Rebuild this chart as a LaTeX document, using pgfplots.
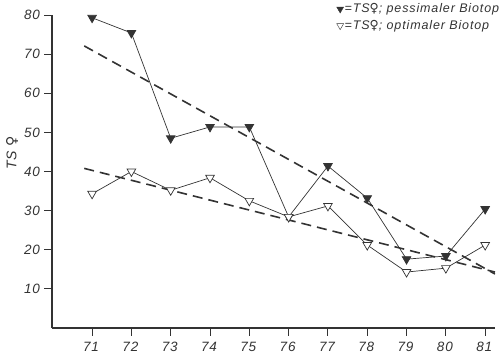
\documentclass[border=0pt]{standalone}
\usepackage{fontspec}
\setmainfont{Liberation Sans}
\newfontfamily\dejavu{DejaVu Sans}
\newfontfamily\ticksfont[LetterSpace=6]{Liberation Sans}
\newfontfamily\legfont[LetterSpace=7]{Liberation Sans}
\usepackage{pgfplots}
\pgfplotsset{compat=1.18}
\definecolor{ink}{HTML}{333333}

\begin{document}
\begin{tikzpicture}
\useasboundingbox (-52pt,-29pt) rectangle (448pt,328pt);
\begin{axis}[
  scale only axis, width=443pt, height=313pt,
  xmin=69.98, xmax=81.25, ymin=0, ymax=80,
  axis x line*=bottom, axis y line*=left,
  axis line style={-, ink, line width=1.1pt},
  xtick={71,72,...,81}, ytick={10,20,...,80},
  tick align=outside, major tick length=7.5pt,
  tick style={ink, line width=1pt},
  /pgf/number format/assume math mode=true,
  ticklabel style={font=\ticksfont\fontsize{13.5}{16}\selectfont\itshape, text=ink},
  x tick label style={yshift=-3pt, xshift=-1pt},
  y tick label style={xshift=-1pt},
  ylabel={TS {\dejavu ♀}},
  every axis y label/.style={at={(axis description cs:-0.09,0.56)}, rotate=90, anchor=center, font=\ticksfont\fontsize{14}{16}\selectfont\itshape, text=ink},
  legend style={draw=none, fill=none, at={(1.012,1.04)}, anchor=north east,
    font=\legfont\fontsize{12.5}{14}\selectfont\itshape, text=ink, row sep=4pt,
    inner sep=0pt, nodes={inner xsep=1pt, inner ysep=1pt}},
  legend cell align=left,
  legend image code/.code={\draw[#1] plot coordinates {(0pt,0pt)};},
]
% trend lines
\addplot[forget plot, ink, line width=1.6pt, dash pattern=on 10pt off 6pt] coordinates {(70.8,72.1) (81.25,13.8)};
\addplot[forget plot, ink, line width=1.6pt, dash pattern=on 10pt off 6pt] coordinates {(70.8,40.8) (81.25,14.3)};
% pessimaler Biotop
\addplot[forget plot, ink, line width=0.7pt, mark=triangle*, mark size=5pt,
  mark options={rotate=180, fill=ink, solid}] coordinates {
  (71,79.3) (72,75.4) (73,48.5) (74,51.4) (75,51.4) (76,28.4) (77,41.4) (78,33.2) (79,17.6) (80,18.4) (81,30.4)};
% optimaler Biotop
\addplot[forget plot, ink, line width=0.7pt, mark=triangle*, mark size=5pt,
  mark options={rotate=180, fill=white, draw=ink, solid}] coordinates {
  (71,34.3) (72,40.0) (73,35.2) (74,38.4) (75,32.5) (76,28.4) (77,31.2) (78,21.2) (79,14.3) (80,15.3) (81,21.2)};
\addlegendimage{only marks, mark=triangle*, mark size=4pt, mark options={rotate=180, fill=ink, draw=ink}}
\addlegendentry{=TS{\dejavu ♀}; pessimaler Biotop}
\addlegendimage{only marks, mark=triangle*, mark size=4pt, mark options={rotate=180, fill=white, draw=ink}}
\addlegendentry{=TS{\dejavu ♀}; optimaler Biotop}
\end{axis}
\end{tikzpicture}
\end{document}
